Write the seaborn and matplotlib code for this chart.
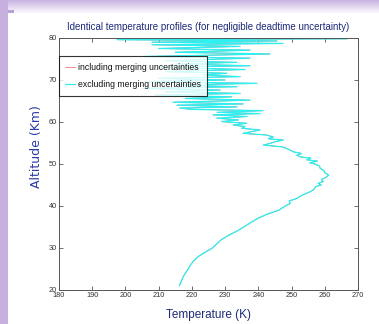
import matplotlib
matplotlib.use("Agg")
import matplotlib.pyplot as plt
import seaborn as sns
import numpy as np
import pandas as pd
from matplotlib.patches import Rectangle
from matplotlib.colors import LinearSegmentedColormap

# ---- data ----
altitude_km = [21.0, 22.0, 23.0, 24.0, 25.0, 26.0, 27.0, 28.0, 29.0, 30.0,
               31.0, 32.0, 33.0, 34.0, 35.0, 36.0, 37.0, 38.0, 39.0, 40.0,
               40.6, 41.2, 41.8, 42.5, 43.4, 44.0, 44.6, 45.0, 45.4, 45.8,
               46.3, 46.8, 47.4, 47.9, 48.4, 49.0, 49.5, 50.0, 50.3, 50.7,
               51.0, 51.4, 51.7, 52.1, 52.5, 52.9, 53.3, 53.7, 54.1, 54.5,
               55.0, 55.3, 55.7, 56.0, 56.4, 56.9, 57.3, 57.7, 58.1, 58.5,
               58.9, 59.3, 59.7, 60.1, 60.5, 60.9, 61.3, 61.7, 62.0, 62.3,
               62.7, 63.0, 63.3, 63.6, 64.0, 64.3, 64.7, 65.2, 65.6, 66.0,
               66.4, 66.8, 67.2, 67.6, 68.0, 68.4, 68.8, 69.2, 69.6, 70.0,
               70.4, 70.8, 71.2, 71.6, 72.0, 72.5, 73.0, 73.4, 73.8, 74.2,
               74.6, 75.2, 75.6, 76.2, 76.6, 77.1, 77.5, 78.0, 78.4, 78.7,
               79.0, 79.3, 79.6, 79.8, 80.0]
temperature_K = [216.2, 216.8, 217.3, 218.0, 218.9, 219.6, 220.6, 222.0, 224.0, 226.2,
                 227.5, 228.9, 231.0, 233.5, 235.6, 237.6, 239.7, 242.5, 246.2, 248.1,
                 249.6, 249.3, 251.6, 253.0, 255.6, 256.8, 257.2, 258.9, 258.0, 259.5,
                 259.0, 260.3, 261.2, 260.0, 259.8, 258.6, 258.4, 257.0, 255.5, 257.8,
                 254.6, 255.8, 252.6, 251.6, 253.0, 250.5, 249.6, 248.5, 247.0, 241.5,
                 244.0, 245.0, 247.5, 243.0, 244.5, 242.5, 235.4, 238.0, 240.5, 235.0,
                 236.0, 232.4, 236.5, 229.0, 234.0, 227.5, 236.6, 226.4, 240.5, 227.6,
                 241.4, 220.0, 216.4, 233.6, 215.5, 235.4, 214.3, 237.5, 218.0, 232.0,
                 209.0, 234.5, 212.0, 228.5, 205.0, 233.6, 215.0, 239.6, 207.0, 230.0,
                 210.0, 234.5, 223.4, 230.5, 212.0, 236.0, 210.0, 237.5, 215.0, 233.5,
                 212.0, 237.5, 206.0, 243.5, 215.0, 237.5, 210.0, 234.5, 208.0, 247.4,
                 208.0, 245.6, 197.5, 266.7, 230.0]
series_labels = ["including merging uncertainties", "excluding merging uncertainties"]
x_ticks = [180, 190, 200, 210, 220, 230, 240, 250, 260, 270]
y_ticks = [20, 30, 40, 50, 60, 70, 80]

df = pd.DataFrame({"T": temperature_K, "alt": altitude_km})

sns.set_theme(style="white")
plt.rcParams["font.family"] = ["Liberation Sans", "DejaVu Sans"]

fig = plt.figure(figsize=(3.79, 3.24), dpi=100)
fig.patch.set_facecolor("white")

# decorative slide frame
bg = fig.add_axes([0, 0, 1, 1], zorder=-5)
grad = np.linspace(0, 1, 64).reshape(-1, 1)
cm = LinearSegmentedColormap.from_list("g", ["#c7b3e2", "#ffffff"])
bg.imshow(grad, cmap=cm, extent=[0, 379, 14, 0], aspect="auto")
bg.add_patch(Rectangle((0, 0), 8, 324, color="#c5b0e0", lw=0))
bg.add_patch(Rectangle((8, 10), 6, 3, color="#b9a2d8", lw=0))
bg.set_xlim(0, 379); bg.set_ylim(324, 0); bg.axis("off")

ax = fig.add_axes([59/379, 34/324, 299/379, 252/324])
sns.lineplot(data=df, x="T", y="alt", sort=False, estimator=None,
             color="#e06060", lw=0.5, ax=ax, label=series_labels[0])
sns.lineplot(data=df, x="T", y="alt", sort=False, estimator=None,
             color="#2ef0f0", lw=0.9, ax=ax, label=series_labels[1])

ax.set_xlim(180, 270)
ax.set_ylim(20, 80)
ax.set_xticks(x_ticks)
ax.set_yticks(y_ticks)
ax.tick_params(direction="in", length=3, width=0.6, labelsize=5.3,
               colors="#555555", labelcolor="#333333", top=True, right=True,
               bottom=True, left=True, pad=1.5)
for s in ax.spines.values():
    s.set_color("#555555"); s.set_linewidth(0.7)

ax.set_title("Identical temperature profiles (for negligible deadtime uncertainty)",
             fontsize=7.0, color="#1e2b78", pad=6)
ax.set_xlabel("Temperature (K)", fontsize=8.5, color="#1e2b78")
ax.xaxis.set_label_coords(0.5, -0.075)
ax.set_ylabel("Altitude (Km)", fontsize=9, color="#2a3ca8",
              family=["Verdana", "DejaVu Sans"])
ax.yaxis.set_label_coords(-0.055, 0.57)

leg = ax.legend(loc="upper left", bbox_to_anchor=(0.0, 0.927), frameon=True,
                fancybox=False, fontsize=6.2, handlelength=1.1, handletextpad=0.3,
                borderpad=0.75, labelspacing=1.0, borderaxespad=0.0)
leg.get_frame().set_edgecolor("black")
leg.get_frame().set_linewidth(0.8)
for t in leg.get_texts():
    t.set_color("#111111")

fig.savefig("out.png", dpi=100)
